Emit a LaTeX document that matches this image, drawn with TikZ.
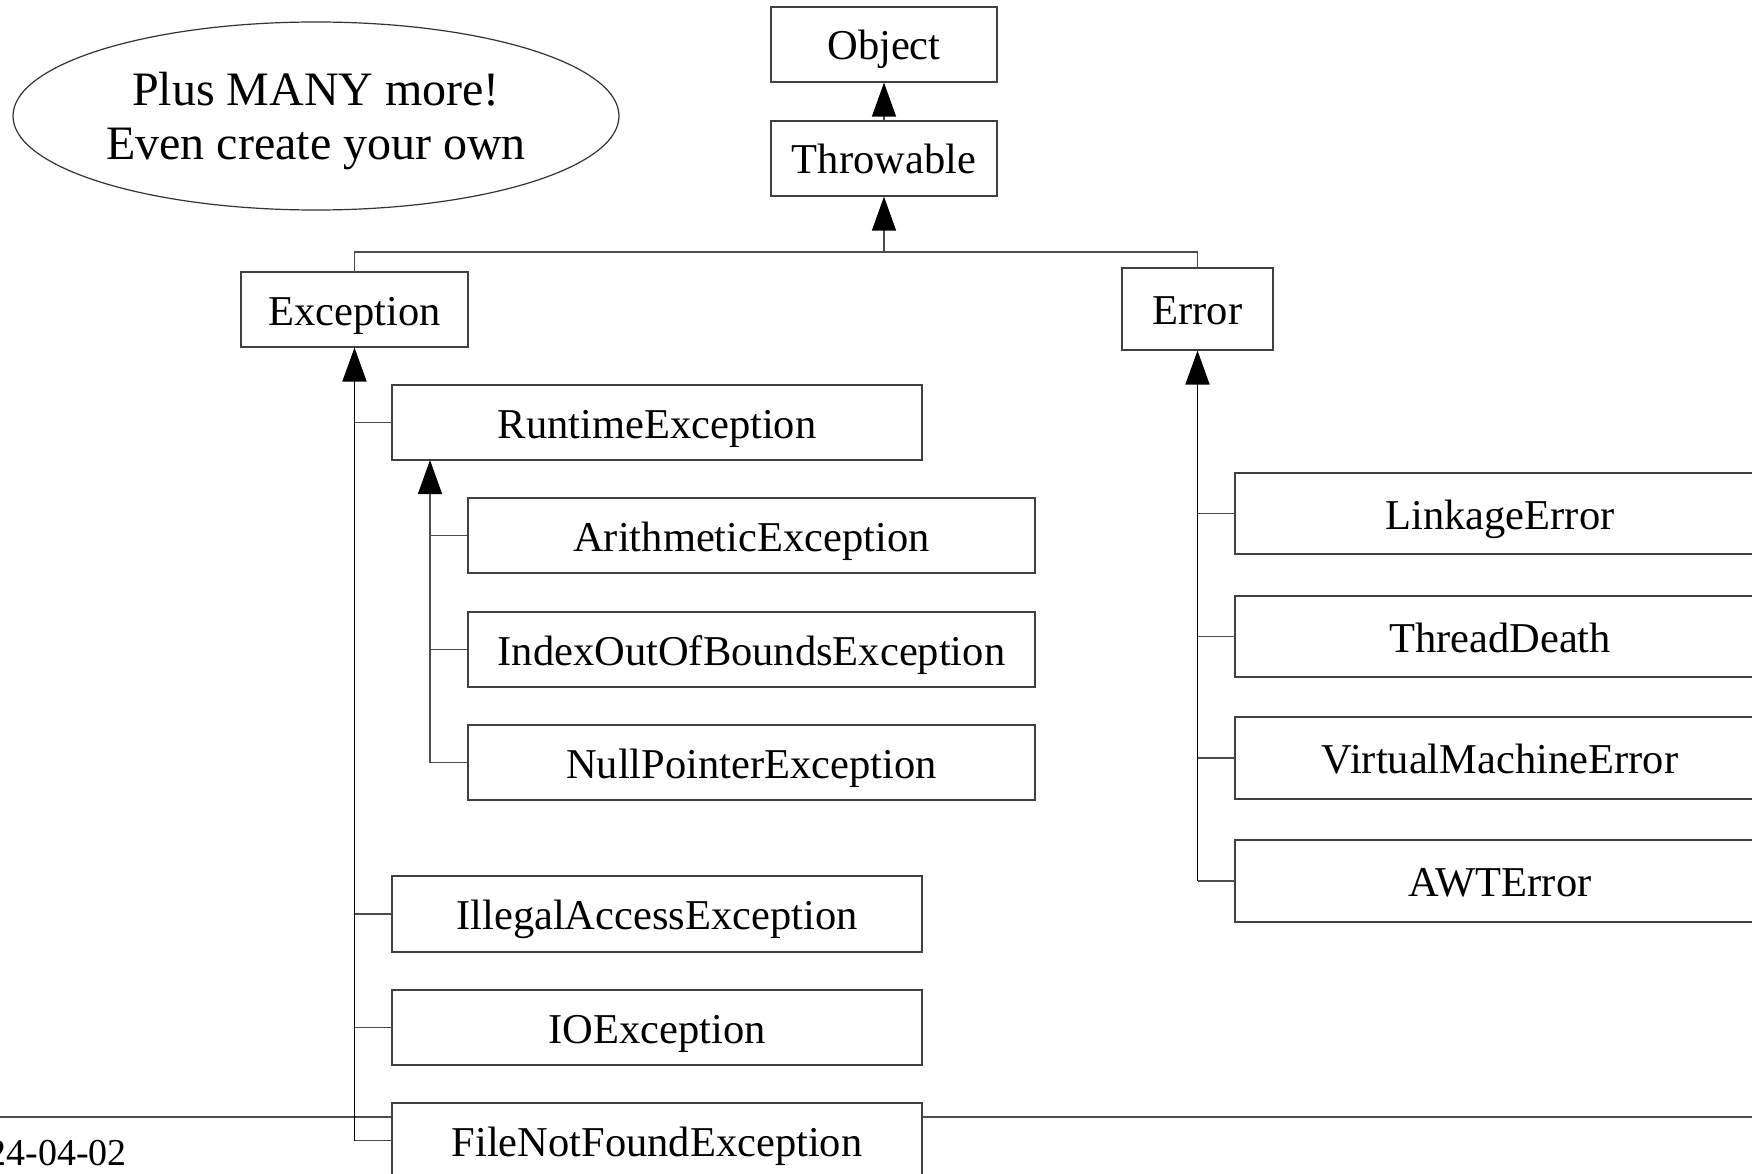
\documentclass[tikz,border=0pt]{standalone}
\usepackage{fontspec}
\setmainfont{Liberation Serif}
\usetikzlibrary{arrows.meta,shapes.geometric}
\begin{document}
\begin{tikzpicture}[x=1pt,y=-1pt,
  box/.style={draw=black!75, line width=1.2pt, fill=white, inner sep=0pt, text height=31pt, text depth=0pt, font=\fontsize{42.5}{50}\selectfont},
  link/.style={draw=black!70, line width=1.2pt},
  trunk/.style={draw=black, line width=1.8pt},
  tip/.style={-{Triangle[length=34pt,width=24pt,color=black]}}
]
\path[use as bounding box] (0,0) rectangle (1752,1174);
\clip (0,0) rectangle (1752,1174);
\draw[link] (0,1117) -- (1752,1117);

\node[draw=black!80, line width=1.2pt, ellipse, minimum width=606pt, minimum height=188pt, inner sep=0pt, font=\fontsize{48}{54}\selectfont] (note) at (316,116) {\raisebox{-6pt}[\height][\depth]{\begin{tabular}{@{}c@{}}Plus MANY more!\\Even create your own\end{tabular}}};

\node[box, minimum width=226pt, minimum height=75pt] (obj) at (884,44.5) {Object};
\node[box, minimum width=226pt, minimum height=75pt] (thr) at (884,158.5) {Throwable};
\node[box, minimum width=227pt, minimum height=75pt] (exc) at (354.5,309.5) {Exception};
\node[box, minimum width=151pt, minimum height=82pt] (err) at (1197.5,309) {Error};

\node[box, minimum width=530pt, minimum height=75pt] (rt) at (657,422.5) {RuntimeException};
\node[box, minimum width=567pt, minimum height=75pt] (ari) at (751.5,535.5) {ArithmeticException};
\node[box, minimum width=567pt, minimum height=75pt] (iob) at (751.5,649.5) {IndexOutOfBoundsException};
\node[box, minimum width=567pt, minimum height=75pt] (npe) at (751.5,762.5) {NullPointerException};
\node[box, minimum width=530pt, minimum height=76pt] (ill) at (657,914) {IllegalAccessException};
\node[box, minimum width=530pt, minimum height=75pt] (io) at (657,1027.5) {IOException};
\node[box, minimum width=530pt, minimum height=75pt] (fnf) at (657,1140.5) {FileNotFoundException};

\node[box, minimum width=530pt, minimum height=81pt] (lnk) at (1500,513.5) {LinkageError};
\node[box, minimum width=530pt, minimum height=81pt] (td) at (1500,636.5) {ThreadDeath};
\node[box, minimum width=530pt, minimum height=82pt] (vme) at (1500,758) {VirtualMachineError};
\node[box, minimum width=530pt, minimum height=82pt] (awt) at (1500,881) {AWTError};

\node[anchor=east, inner sep=0pt, font=\fontsize{38}{40}\selectfont] (date) at (127,1153) {24-04-02};

% Object <- Throwable
\draw[link,tip] (thr.north) -- (obj.south);
% Throwable <- Exception, Error
\coordinate (tj) at (884,252);
\draw[link] (exc.north) |- (tj);
\draw[link] (err.north) |- (tj);
\draw[link,tip] (tj) -- (thr.south);

% Exception subtree
\draw[trunk,tip] (fnf.west -| exc.south) -- (exc.south);
\foreach \n in {rt,ill,io,fnf} \draw[link] (\n.west) -- (\n.west -| exc.south);

% RuntimeException subtree
\coordinate (rtj) at (430,460);
\draw[link,tip] (npe.west -| rtj) -- (rtj);
\foreach \n in {ari,iob,npe} \draw[link] (\n.west) -- (\n.west -| rtj);

% Error subtree
\draw[trunk,tip] (awt.west -| err.south) -- (err.south);
\foreach \n in {lnk,td,vme,awt} \draw[link] (\n.west) -- (\n.west -| err.south);
\end{tikzpicture}
\end{document}
